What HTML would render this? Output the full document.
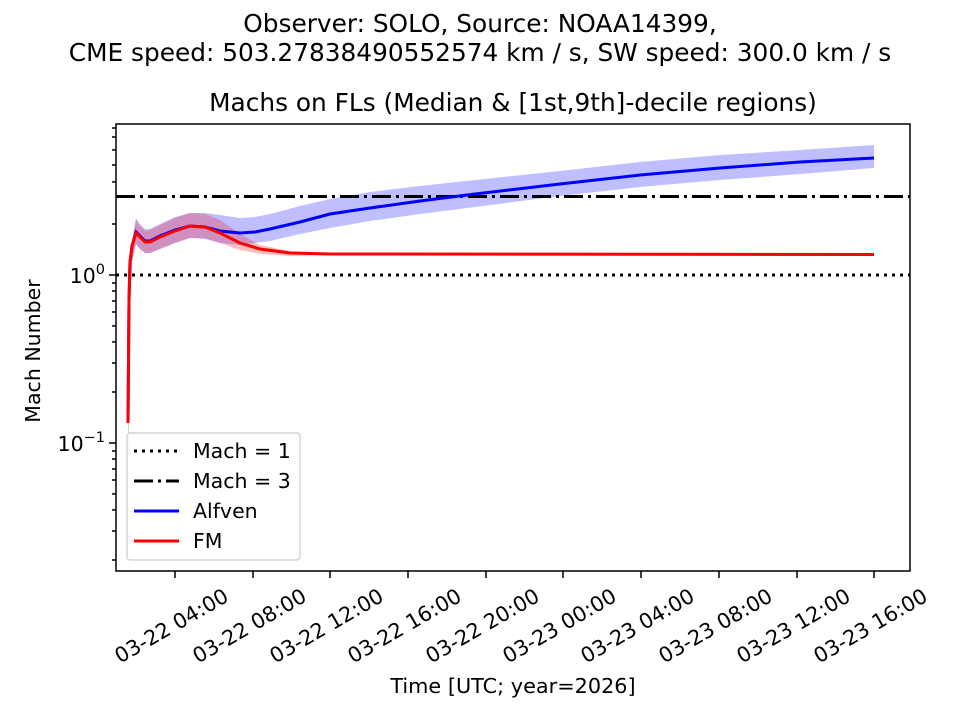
<!DOCTYPE html>
<html><head><meta charset="utf-8"><style>
html,body{margin:0;padding:0;background:#fff;}
svg{display:block;font-family:"DejaVu Sans","Liberation Sans",sans-serif;}
</style></head><body>
<svg width="960" height="720" viewBox="0 0 960 720" xmlns="http://www.w3.org/2000/svg">
<rect width="960" height="720" fill="#fff"/>
<text x="480" y="32" text-anchor="middle" font-size="24.8">Observer: SOLO, Source: NOAA14399,</text>
<text x="480" y="61" text-anchor="middle" font-size="24.8">CME speed: 503.27838490552574 km / s, SW speed: 300.0 km / s</text>
<text x="513" y="111" text-anchor="middle" font-size="24.8">Machs on FLs (Median &amp; [1st,9th]-decile regions)</text>
<defs><clipPath id="c"><rect x="116" y="124" width="794" height="447"/></clipPath></defs>
<g clip-path="url(#c)">
<path d="M128,440 L129,330 L130,270 L132,240 L136,218 L140,224 L145,229 L150,229 L160,224 L175,217 L190,213 L205,213 L220,215 L240,218 L255,217 L270,214 L300,206 L330,199 L370,192 L420,186 L475,180 L560,171 L640,162 L720,155 L800,150 L874,145 L874,168 L800,174 L720,180 L640,187 L560,196 L475,207 L420,214 L370,221 L330,228 L300,234 L270,241 L255,243 L240,245 L220,243 L205,239 L190,238 L175,243 L160,249 L150,253 L145,253 L140,249 L136,244 L132,262 L130,300 L129,400 L128,460 Z" fill="#0000ff" fill-opacity="0.25"/>
<path d="M128,440 L129,330 L130,270 L132,242 L136,220 L140,226 L145,231 L150,230 L160,225 L175,218 L190,213 L205,214 L220,220 L240,234 L260,245 L290,251 L330,253 L874,253 L874,256 L330,255 L290,256 L260,254 L240,250 L220,243 L205,238 L190,238 L175,243 L160,249 L150,253 L145,253 L140,249 L136,244 L132,262 L130,300 L129,400 L128,460 Z" fill="#ff0000" fill-opacity="0.25"/>
<line x1="116" y1="275" x2="910" y2="275" stroke="#000" stroke-width="3" stroke-dasharray="3,5"/>
<line x1="116" y1="196.5" x2="910" y2="196.5" stroke="#000" stroke-width="3" stroke-dasharray="19,5,3,5"/>
<polyline fill="none" stroke="#0000ff" stroke-width="3" points="128,423 129,300 130,262 132,246 136,232 140,236 145,241 150,241 160,236 175,230 190,226 205,227 220,231 240,233 255,232 270,229 300,222 330,214 370,208 420,201 475,194 560,184 640,175 720,168 800,162 874,158"/>
<polyline fill="none" stroke="#ff0000" stroke-width="3" points="128,423 129,300 130,262 132,246 136,233 140,237 145,242 150,242 160,237 175,231 190,226 205,227 220,233 240,243 260,249 290,253 330,254 874,254.5"/>
</g>
<rect x="116" y="124" width="794" height="447" fill="none" stroke="#000" stroke-width="1.5"/>
<g stroke="#000" stroke-width="1.5">
<line x1="116" y1="275" x2="109" y2="275"/><line x1="116" y1="443" x2="109" y2="443"/>
<line x1="116" y1="128" x2="112" y2="128"/><line x1="116" y1="137" x2="112" y2="137"/><line x1="116" y1="150" x2="112" y2="150"/><line x1="116" y1="165" x2="112" y2="165"/><line x1="116" y1="182" x2="112" y2="182"/><line x1="116" y1="224" x2="112" y2="224"/>
<line x1="116" y1="283" x2="112" y2="283"/><line x1="116" y1="291" x2="112" y2="291"/><line x1="116" y1="301" x2="112" y2="301"/><line x1="116" y1="312" x2="112" y2="312"/><line x1="116" y1="326" x2="112" y2="326"/><line x1="116" y1="342" x2="112" y2="342"/><line x1="116" y1="363" x2="112" y2="363"/><line x1="116" y1="392" x2="112" y2="392"/>
<line x1="116" y1="451" x2="112" y2="451"/><line x1="116" y1="459" x2="112" y2="459"/><line x1="116" y1="469" x2="112" y2="469"/><line x1="116" y1="480" x2="112" y2="480"/><line x1="116" y1="494" x2="112" y2="494"/><line x1="116" y1="510" x2="112" y2="510"/><line x1="116" y1="531" x2="112" y2="531"/><line x1="116" y1="560" x2="112" y2="560"/>
</g>
<text x="105" y="283" text-anchor="end" font-size="20.5">10<tspan dy="-9" font-size="14.5">0</tspan></text>
<text x="105" y="451" text-anchor="end" font-size="20.5">10<tspan dy="-9" font-size="14.5">−1</tspan></text>
<text transform="translate(40,351) rotate(-90)" text-anchor="middle" font-size="20.5">Mach Number</text>
<g stroke="#000" stroke-width="1.5">
<line x1="175" y1="571" x2="175" y2="578"/><line x1="253" y1="571" x2="253" y2="578"/><line x1="330" y1="571" x2="330" y2="578"/><line x1="408" y1="571" x2="408" y2="578"/><line x1="486" y1="571" x2="486" y2="578"/><line x1="563" y1="571" x2="563" y2="578"/><line x1="641" y1="571" x2="641" y2="578"/><line x1="719" y1="571" x2="719" y2="578"/><line x1="797" y1="571" x2="797" y2="578"/><line x1="874" y1="571" x2="874" y2="578"/>
</g>
<g font-size="20.8" text-anchor="middle">
<text transform="translate(175,632) rotate(-30)">03-22 04:00</text>
<text transform="translate(253,632) rotate(-30)">03-22 08:00</text>
<text transform="translate(330,632) rotate(-30)">03-22 12:00</text>
<text transform="translate(408,632) rotate(-30)">03-22 16:00</text>
<text transform="translate(486,632) rotate(-30)">03-22 20:00</text>
<text transform="translate(563,632) rotate(-30)">03-23 00:00</text>
<text transform="translate(641,632) rotate(-30)">03-23 04:00</text>
<text transform="translate(719,632) rotate(-30)">03-23 08:00</text>
<text transform="translate(797,632) rotate(-30)">03-23 12:00</text>
<text transform="translate(874,632) rotate(-30)">03-23 16:00</text>
</g>
<text x="513" y="693" text-anchor="middle" font-size="20.8">Time [UTC; year=2026]</text>
<rect x="127" y="433" width="173" height="127" rx="3" fill="#fff" fill-opacity="0.8" stroke="#ccc" stroke-width="1.2"/>
<line x1="134" y1="451" x2="179" y2="451" stroke="#000" stroke-width="3" stroke-dasharray="3,5"/>
<line x1="134" y1="481" x2="179" y2="481" stroke="#000" stroke-width="3" stroke-dasharray="19,5,3,5"/>
<line x1="134" y1="511" x2="179" y2="511" stroke="#0000ff" stroke-width="3"/>
<line x1="134" y1="541" x2="179" y2="541" stroke="#ff0000" stroke-width="3"/>
<g font-size="20.5">
<text x="193" y="458">Mach = 1</text>
<text x="193" y="488">Mach = 3</text>
<text x="193" y="518">Alfven</text>
<text x="193" y="548">FM</text>
</g>
</svg>
</body></html>
